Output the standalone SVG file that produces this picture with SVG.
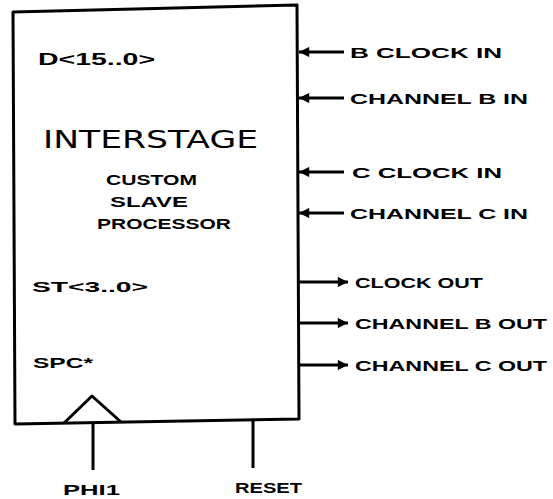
<svg xmlns="http://www.w3.org/2000/svg" width="553" height="499" viewBox="0 0 553 499">
<style>
  .ln{stroke:#000;stroke-width:3;fill:none;stroke-linejoin:round}
  .t{font-family:"Liberation Sans","DejaVu Sans",sans-serif;font-weight:bold;fill:#000}
  .lbl{font-size:15px}
  .ttl{font-family:"DejaVu Sans","Liberation Sans",sans-serif;font-weight:normal;font-size:25px;fill:#000}
</style>
<defs>
  <marker id="ah" viewBox="0 0 10 10" refX="10" refY="5" markerWidth="5" markerHeight="3.4" markerUnits="strokeWidth" orient="auto">
    <path d="M0,0 L10,5 L0,10 Z" fill="#000"/>
  </marker>
</defs>
<rect width="553" height="499" fill="#fff"/>
<g id="processor">
  <path class="ln" d="M13,12 L297,5 L299,419 L15,424 Z"/>
  <path class="ln" d="M64,423 L92,396 L121,422"/>
  <text class="t" x="38" y="65" font-size="16" textLength="117" lengthAdjust="spacingAndGlyphs">D&lt;15..0&gt;</text>
  <text class="ttl" x="43" y="148" textLength="215" lengthAdjust="spacingAndGlyphs">INTERSTAGE</text>
  <text class="t lbl" x="106" y="185" textLength="91" lengthAdjust="spacingAndGlyphs">CUSTOM</text>
  <text class="t lbl" x="110" y="207" textLength="78" lengthAdjust="spacingAndGlyphs">SLAVE</text>
  <text class="t lbl" x="97" y="229" textLength="134" lengthAdjust="spacingAndGlyphs">PROCESSOR</text>
  <text class="t lbl" x="32" y="292" textLength="116" lengthAdjust="spacingAndGlyphs">ST&lt;3..0&gt;</text>
  <text class="t lbl" x="33" y="368" textLength="60" lengthAdjust="spacingAndGlyphs">SPC*</text>
</g>
<g id="connectors">
  <line class="ln" x1="344" y1="52" x2="299" y2="52" marker-end="url(#ah)"/>
  <line class="ln" x1="344" y1="98" x2="299" y2="98" marker-end="url(#ah)"/>
  <line class="ln" x1="344" y1="172" x2="299" y2="172" marker-end="url(#ah)"/>
  <line class="ln" x1="344" y1="213" x2="299" y2="213" marker-end="url(#ah)"/>
  <line class="ln" x1="299" y1="282" x2="348" y2="282" marker-end="url(#ah)"/>
  <line class="ln" x1="299" y1="323" x2="348" y2="323" marker-end="url(#ah)"/>
  <line class="ln" x1="299" y1="365" x2="348" y2="365" marker-end="url(#ah)"/>
  <line class="ln" x1="93" y1="423" x2="93" y2="470"/>
  <line class="ln" x1="253" y1="421" x2="253" y2="468"/>
</g>
<g id="labels">
  <text class="t lbl" x="350" y="58" textLength="152" lengthAdjust="spacingAndGlyphs">B CLOCK IN</text>
  <text class="t lbl" x="350" y="104" textLength="178" lengthAdjust="spacingAndGlyphs">CHANNEL B IN</text>
  <text class="t lbl" x="352" y="178" textLength="150" lengthAdjust="spacingAndGlyphs">C CLOCK IN</text>
  <text class="t lbl" x="350" y="219" textLength="178" lengthAdjust="spacingAndGlyphs">CHANNEL C IN</text>
  <text class="t lbl" x="355" y="288" textLength="128" lengthAdjust="spacingAndGlyphs">CLOCK OUT</text>
  <text class="t lbl" x="355" y="329" textLength="192" lengthAdjust="spacingAndGlyphs">CHANNEL B OUT</text>
  <text class="t lbl" x="355" y="371" textLength="192" lengthAdjust="spacingAndGlyphs">CHANNEL C OUT</text>
  <text class="t lbl" x="63" y="495" textLength="57" lengthAdjust="spacingAndGlyphs">PHI1</text>
  <text class="t lbl" x="235" y="493" textLength="67" lengthAdjust="spacingAndGlyphs">RESET</text>
</g>
</svg>
